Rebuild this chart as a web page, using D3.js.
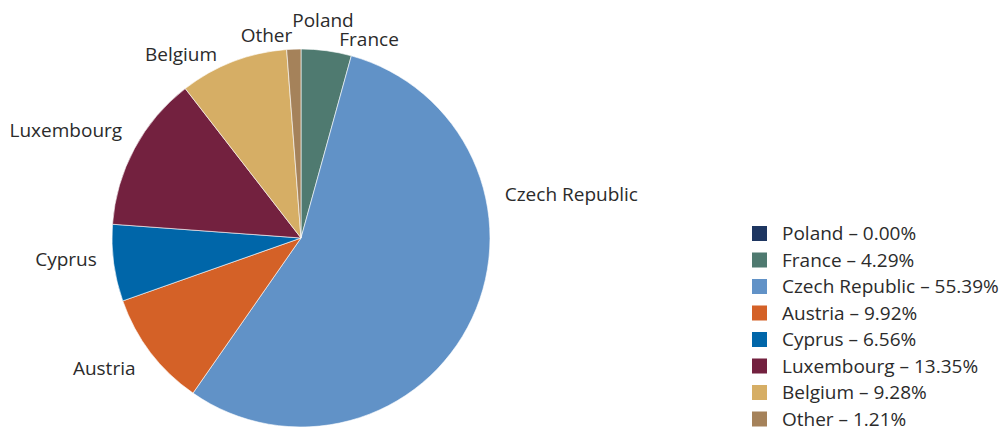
<!DOCTYPE html>
<html>
<head>
<meta charset="utf-8">
<script src="https://cdn.jsdelivr.net/npm/d3@7"></script>
<style>
  html, body { margin: 0; padding: 0; background: #ffffff; }
  svg text { font-family: "Open Sans", Lato, sans-serif; fill: #2b2b2b; }
</style>
</head>
<body>
<svg id="chart" width="1006" height="428"></svg>
<script>
// Share of holdings by country (percent)
const countries = ["Poland", "France", "Czech Republic", "Austria", "Cyprus", "Luxembourg", "Belgium", "Other"];
const shares = [0.00, 4.29, 55.39, 9.92, 6.56, 13.35, 9.28, 1.21];
const colors = ["#1e3661", "#4f7a70", "#6192c7", "#d46127", "#0066a9", "#73213f", "#d6ae65", "#a5825a"];

// Label placement: anchor side and small nudges from the outer ring position
const labelLayout = {
  "Poland":         { anchor: "middle", dx: 22,  dy: -14 },
  "France":         { anchor: "start",  dx: 11,  dy: 3 },
  "Czech Republic": { anchor: "start",  dx: 20,  dy: -129 },
  "Austria":        { anchor: "end",    dx: -4,  dy: 8 },
  "Cyprus":         { anchor: "end",    dx: -3,  dy: -5 },
  "Luxembourg":     { anchor: "end",    dx: 0,   dy: -11 },
  "Belgium":        { anchor: "end",    dx: -11, dy: 6 },
  "Other":          { anchor: "end",    dx: -1,  dy: 1 }
};

const data = countries.map((c, i) => ({ country: c, value: shares[i], color: colors[i] }));

const svg = d3.select("#chart");
const cx = 301, cy = 238, radius = 189, labelRadius = 203;
const fontSize = "19px";

const pie = d3.pie().value(d => d.value).sort(null);
const arcs = pie(data);
const arc = d3.arc().innerRadius(0).outerRadius(radius);
const labelArc = d3.arc().innerRadius(labelRadius).outerRadius(labelRadius);

const g = svg.append("g").attr("transform", `translate(${cx},${cy})`);

g.selectAll("path.slice")
  .data(arcs.filter(a => a.data.value > 0))
  .join("path")
  .attr("class", "slice")
  .attr("d", arc)
  .attr("fill", d => d.data.color)
  .attr("stroke", "#ffffff")
  .attr("stroke-width", 0.6);

g.selectAll("text.label")
  .data(arcs)
  .join("text")
  .attr("class", "label")
  .attr("x", d => labelArc.centroid(d)[0] + labelLayout[d.data.country].dx)
  .attr("y", d => labelArc.centroid(d)[1] + 6 + labelLayout[d.data.country].dy)
  .attr("text-anchor", d => labelLayout[d.data.country].anchor)
  .style("font-size", fontSize)
  .text(d => d.data.country);

// Legend
const legend = svg.append("g").attr("transform", "translate(752,226)");
const rowStep = 26.5;
const rows = legend.selectAll("g.row")
  .data(data)
  .join("g")
  .attr("class", "row")
  .attr("transform", (d, i) => `translate(0,${i * rowStep})`);

rows.append("rect")
  .attr("width", 15)
  .attr("height", 15)
  .attr("fill", d => d.color);

rows.append("text")
  .attr("x", 30)
  .attr("y", 14)
  .style("font-size", fontSize)
  .text(d => `${d.country} \u2013 ${d.value.toFixed(2)}%`);
</script>
</body>
</html>
